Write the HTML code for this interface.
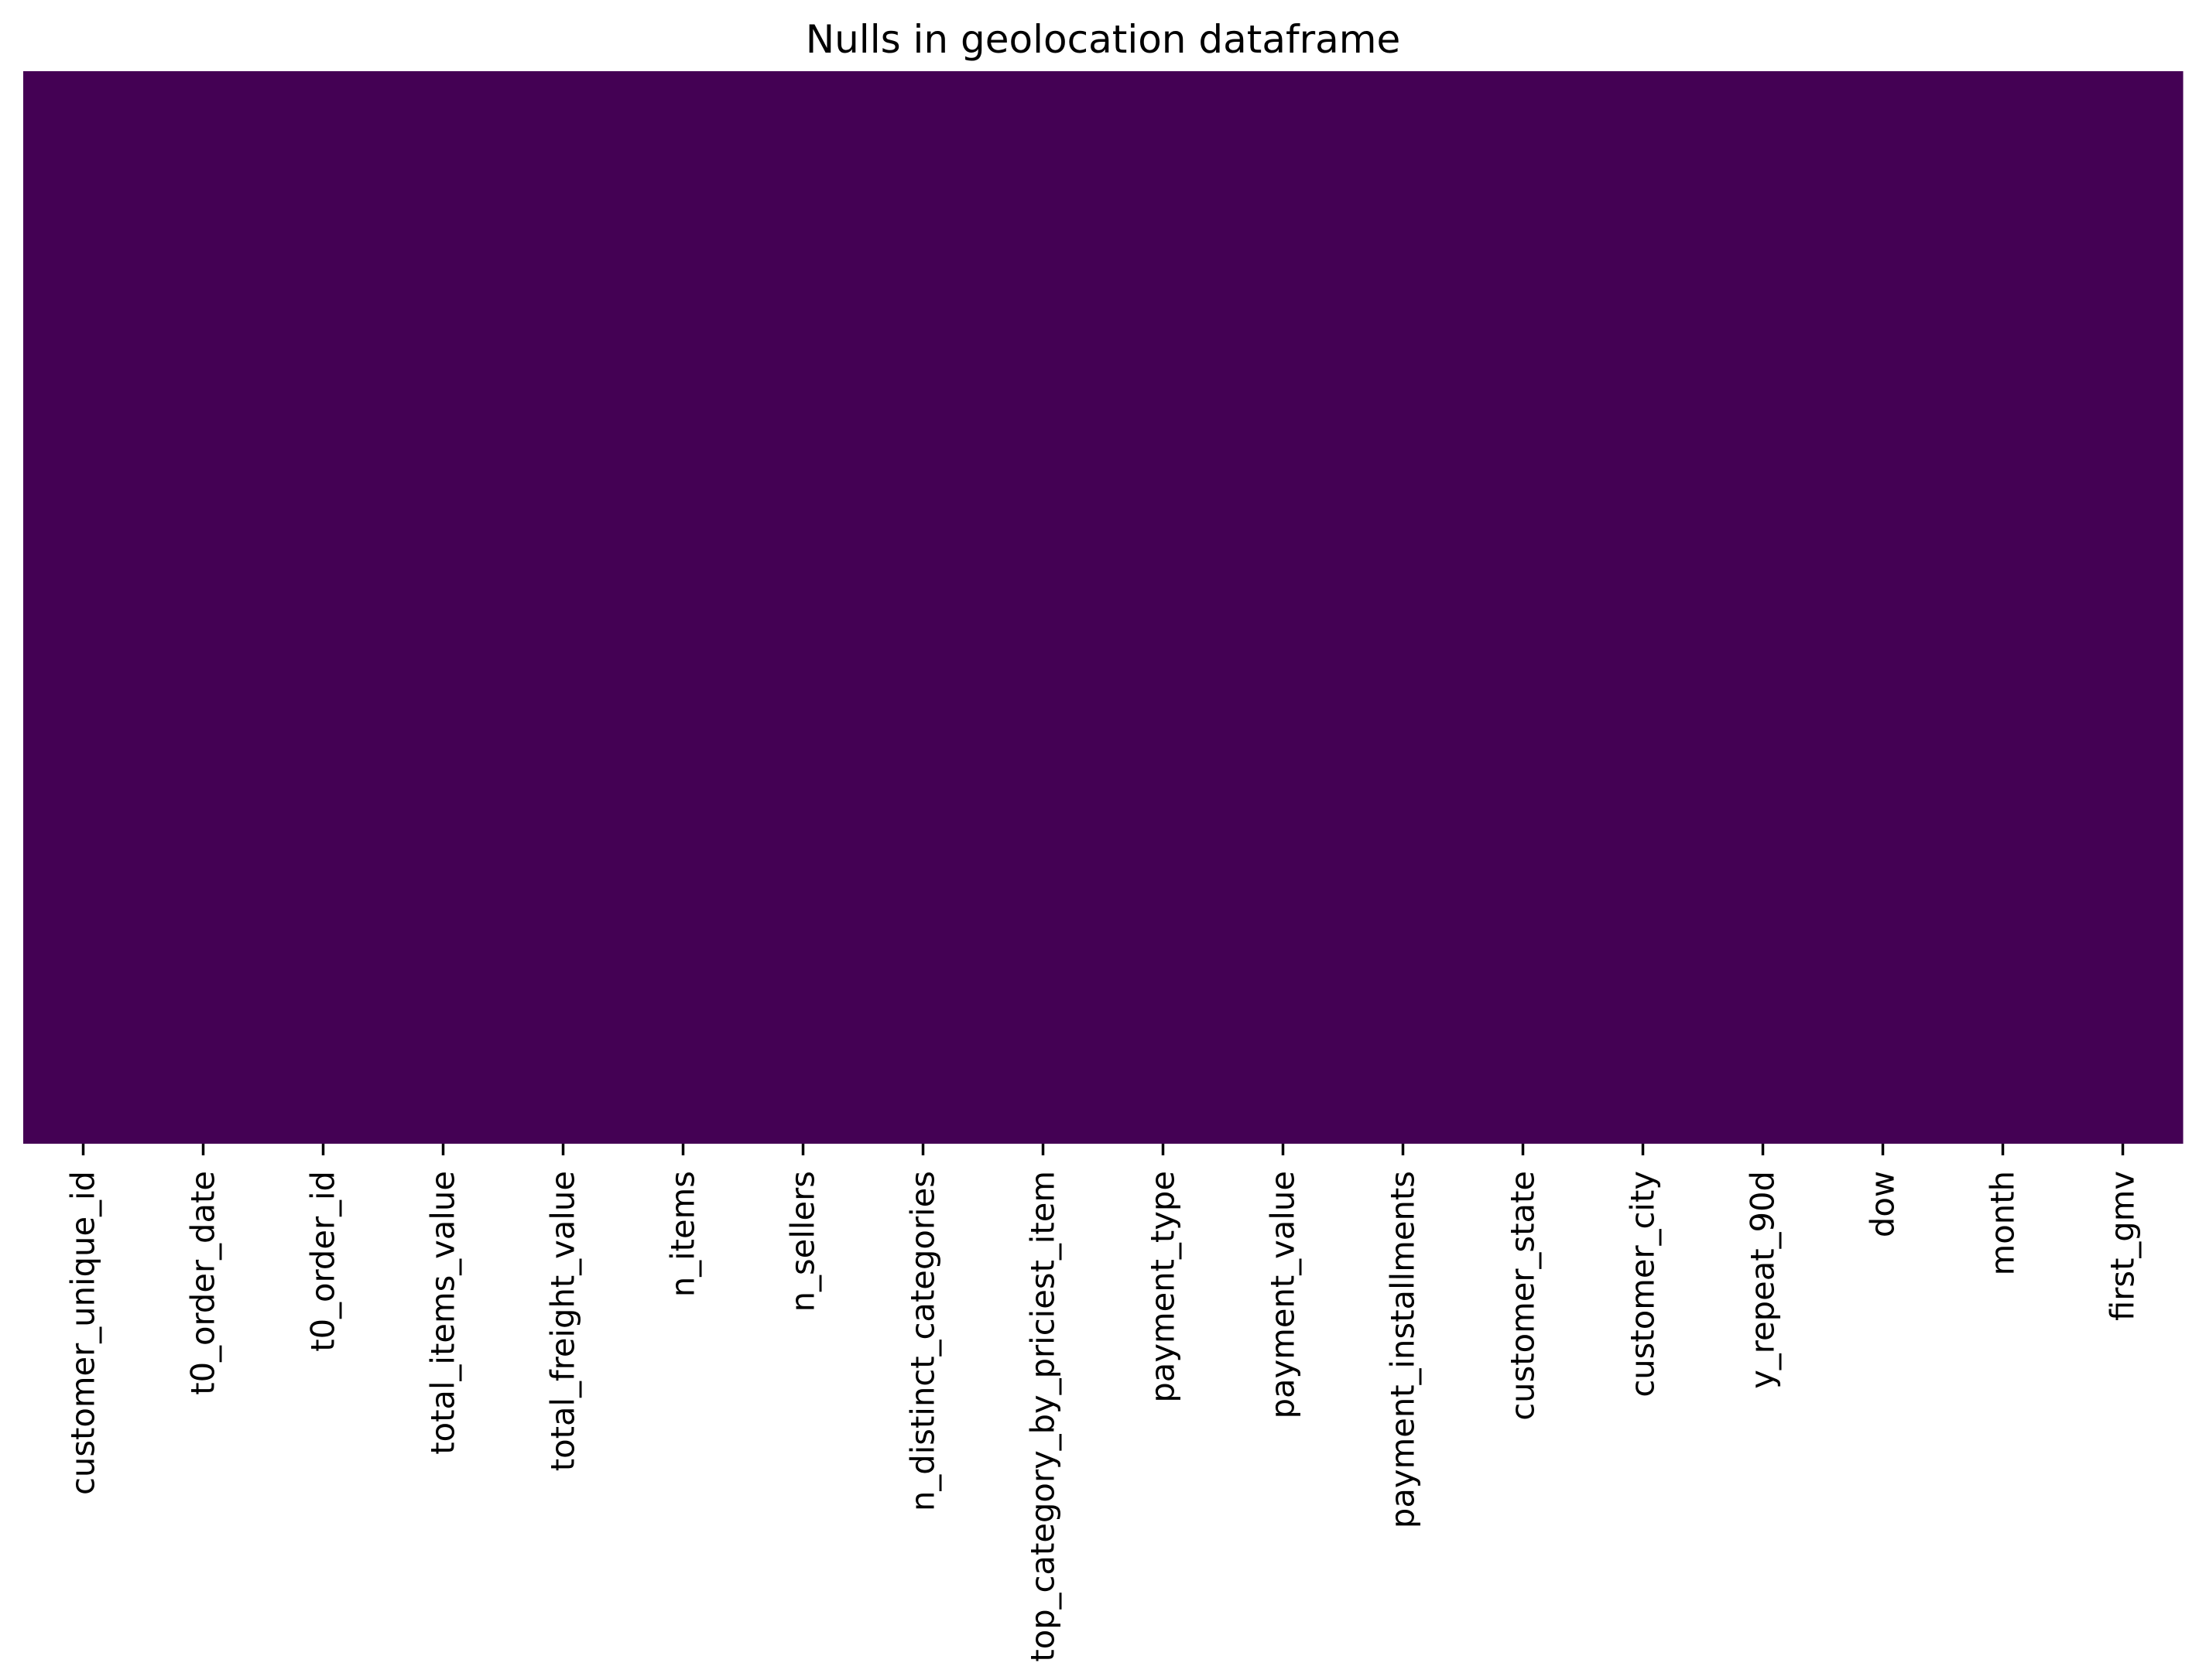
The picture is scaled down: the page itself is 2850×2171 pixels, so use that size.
<!DOCTYPE html>
<html>
<head>
<meta charset="utf-8">
<style>
  html, body { margin: 0; padding: 0; background: #ffffff; }
  svg { display: block; }
  text { font-family: "DejaVu Sans", "Liberation Sans", sans-serif; fill: #000; }
</style>
</head>
<body>
<svg id="chart" width="2850" height="2171" viewBox="0 0 2850 2171" xmlns="http://www.w3.org/2000/svg">
  <rect x="0" y="0" width="2850" height="2171" fill="#ffffff"/>
  <text x="1425" y="68" text-anchor="middle" font-size="50">Nulls in geolocation dataframe</text>
  <g id="cells"></g>
  <g id="xaxis"></g>
</svg>
<script>
const columns = ["customer_unique_id","t0_order_date","t0_order_id","total_items_value","total_freight_value","n_items","n_sellers","n_distinct_categories","top_category_by_priciest_item","payment_type","payment_value","payment_installments","customer_state","customer_city","y_repeat_90d","dow","month","first_gmv"];
const nullFlags = [0,0,0,0,0,0,0,0,0,0,0,0,0,0,0,0,0,0];

const plotLeft = 30, plotRight = 2820, plotTop = 92, plotBottom = 1478;
const colW = (plotRight - plotLeft) / columns.length;
function xPos(i) { return plotLeft + i * colW; }
function colorFor(v) { return v ? "#fde725" : "#440154"; }

const NS = "http://www.w3.org/2000/svg";
const cells = document.getElementById("cells");
const xaxis = document.getElementById("xaxis");

columns.forEach((c, i) => {
  const r = document.createElementNS(NS, "rect");
  r.setAttribute("x", xPos(i));
  r.setAttribute("y", plotTop);
  r.setAttribute("width", colW + 0.5);
  r.setAttribute("height", plotBottom - plotTop);
  r.setAttribute("fill", colorFor(nullFlags[i]));
  
  
  cells.appendChild(r);

  const cx = xPos(i) + colW / 2;
  const t = document.createElementNS(NS, "line");
  t.setAttribute("x1", cx); t.setAttribute("x2", cx);
  t.setAttribute("y1", plotBottom); t.setAttribute("y2", plotBottom + 15);
  t.setAttribute("stroke", "#000"); t.setAttribute("stroke-width", "3.5");
  
  
  xaxis.appendChild(t);

  const lbl = document.createElementNS(NS, "text");
  lbl.setAttribute("transform", "translate(" + (cx + 14) + "," + (plotBottom + 35) + ") rotate(-90)");
  lbl.setAttribute("text-anchor", "end");
  lbl.setAttribute("font-size", "41.7");
  lbl.textContent = c;
  
  
  xaxis.appendChild(lbl);
});
</script>
</body>
</html>
